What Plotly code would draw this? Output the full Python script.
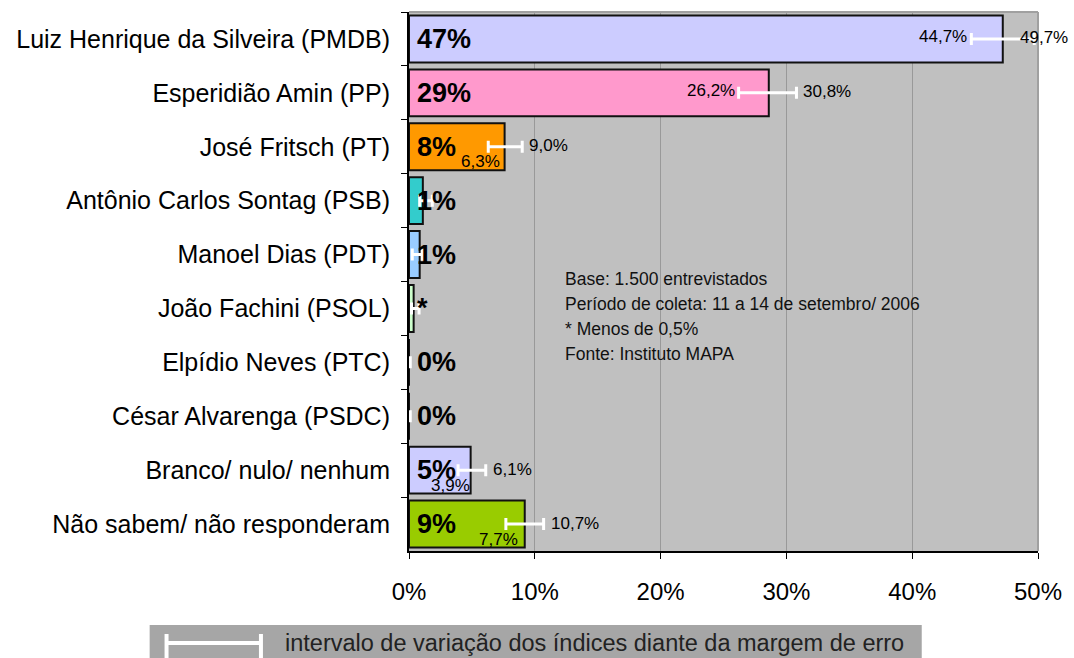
import plotly.graph_objects as go

# candidatos e intenção de voto (%)
candidatos = ["Luiz Henrique da Silveira (PMDB)", "Esperidião Amin (PP)", "José Fritsch (PT)",
              "Antônio Carlos Sontag (PSB)", "Manoel Dias (PDT)", "João Fachini (PSOL)",
              "Elpídio Neves (PTC)", "César Alvarenga (PSDC)", "Branco/ nulo/ nenhum",
              "Não sabem/ não responderam"]
valores = [47.2, 28.6, 7.6, 1.1, 0.85, 0.37, 0.0, 0.0, 4.9, 9.2]
rotulos = ["47%", "29%", "8%", "1%", "1%", "*", "0%", "0%", "5%", "9%"]
minimos = [44.7, 26.2, 6.3, 0.85, 0.26, 0.2, 0.0, 0.0, 3.9, 7.7]
maximos = [49.7, 30.8, 9.0, 1.85, 1.06, 0.8, 0.1, 0.1, 6.1, 10.7]
# rótulos dos extremos (só onde aparecem)
rot_min = ["44,7%", "26,2%", "6,3%", None, None, None, None, None, "3,9%", "7,7%"]
rot_max = ["49,7%", "30,8%", "9,0%", None, None, None, None, None, "6,1%", "10,7%"]
pos_min = ["left", "left", "below", None, None, None, None, None, "below", "below"]
cores = ["#ccccff", "#ff99cc", "#ff9900", "#33cccc", "#99ccff", "#ccffcc", "#ccffcc", "#ccffcc",
         "#ccccff", "#99cc00"]

nota = ["Base: 1.500 entrevistados", "Período de coleta: 11 a 14 de setembro/ 2006",
        "* Menos de 0,5%", "Fonte: Instituto MAPA"]
legenda = "intervalo de variação dos índices diante da margem de erro"

FONT = "Liberation Sans, Arial, sans-serif"
W, H = 1074, 658
L, R, T, B = 409, 32, 12, 107


def px_x(p):
    return (p - L) / (W - L - R)


def px_y(p):
    return (H - B - p) / (H - T - B)


fig = go.Figure(go.Bar(
    x=valores, y=candidatos, orientation="h",
    marker=dict(color=cores, line=dict(color="#111111", width=2)),
    error_x=dict(type="data", symmetric=False,
                 array=[hi - v for hi, v in zip(maximos, valores)],
                 arrayminus=[v - lo for lo, v in zip(minimos, valores)],
                 color="white", thickness=3, width=6),
    hoverinfo="skip",
))

ann = []
for c, r in zip(candidatos, rotulos):
    ann.append(dict(x=0, y=c, text=f"<b>{r}</b>", xanchor="left", xshift=6, showarrow=False,
                    font=dict(family=FONT, size=27, color="black")))
for i, (c, lo, hi, rl, rh, pm) in enumerate(zip(candidatos, minimos, maximos, rot_min, rot_max, pos_min)):
    f = dict(family=FONT, size=17, color="black")
    if rl:
        if pm == "left":
            ann.append(dict(x=lo, y=c, text=rl, xanchor="right", xshift=-2, yshift=2,
                            showarrow=False, font=f))
        else:
            ann.append(dict(x=lo, y=c, text=rl, xanchor="right", xshift=14, yshift=-15,
                            showarrow=False, font=f))
    if rh:
        # o último rótulo da primeira barra encosta na borda direita
        ann.append(dict(x=hi, y=c, text=rh, xanchor="left", xshift=-16 if i == 0 else 5, yshift=1,
                        showarrow=False, font=f))
for i, linha in enumerate(nota):
    ann.append(dict(xref="paper", yref="paper", x=px_x(564), y=px_y(279 + 25 * i), text=linha,
                    xanchor="left", yanchor="middle", showarrow=False,
                    font=dict(family=FONT, size=17.5, color="#111111")))
ann.append(dict(xref="paper", yref="paper", x=px_x(282), y=px_y(643), text=legenda,
                xanchor="left", yanchor="middle", showarrow=False,
                font=dict(family=FONT, size=23.5, color="#222222")))

shapes = [
    # moldura cinza superior/direita da área do gráfico
    dict(type="line", xref="paper", yref="paper", x0=0, x1=1, y0=1, y1=1,
         line=dict(color="#a0a0a0", width=2)),
    dict(type="line", xref="paper", yref="paper", x0=1, x1=1, y0=0, y1=1,
         line=dict(color="#a0a0a0", width=2)),
    # caixa da legenda
    dict(type="rect", xref="paper", yref="paper", x0=px_x(148), x1=px_x(925),
         y0=px_y(665), y1=px_y(625), fillcolor="#a6a6a6", line=dict(width=0), layer="above"),
    dict(type="line", xref="paper", yref="paper", x0=px_x(164), x1=px_x(261),
         y0=px_y(643), y1=px_y(643), line=dict(color="white", width=4)),
    dict(type="line", xref="paper", yref="paper", x0=px_x(165), x1=px_x(165),
         y0=px_y(634), y1=px_y(660), line=dict(color="white", width=4)),
    dict(type="line", xref="paper", yref="paper", x0=px_x(260), x1=px_x(260),
         y0=px_y(634), y1=px_y(660), line=dict(color="white", width=4)),
]

fig.update_layout(
    width=W, height=H, margin=dict(l=L, r=R, t=T, b=B),
    paper_bgcolor="white", plot_bgcolor="#c0c0c0",
    bargap=0.13, showlegend=False,
    annotations=ann, shapes=shapes,
    font=dict(family=FONT, color="black"),
)
fig.update_xaxes(range=[0, 50], dtick=10, ticksuffix="%", showgrid=True, gridcolor="#999999",
                 gridwidth=1, zeroline=False, showline=True, linecolor="black", linewidth=2,
                 ticks="outside", ticklen=6, tickcolor="black", ticklabelstandoff=12,
                 tickfont=dict(family=FONT, size=24, color="black"))
fig.update_yaxes(autorange="reversed", showline=True, linecolor="black", linewidth=2,
                 ticks="outside", ticklen=6, tickcolor="black", tickson="boundaries",
                 showgrid=False, ticklabelstandoff=12,
                 tickfont=dict(family=FONT, size=25, color="black"))

fig.write_html("out.html", config={"displayModeBar": False},
               post_script="document.body.style.margin='0';")
